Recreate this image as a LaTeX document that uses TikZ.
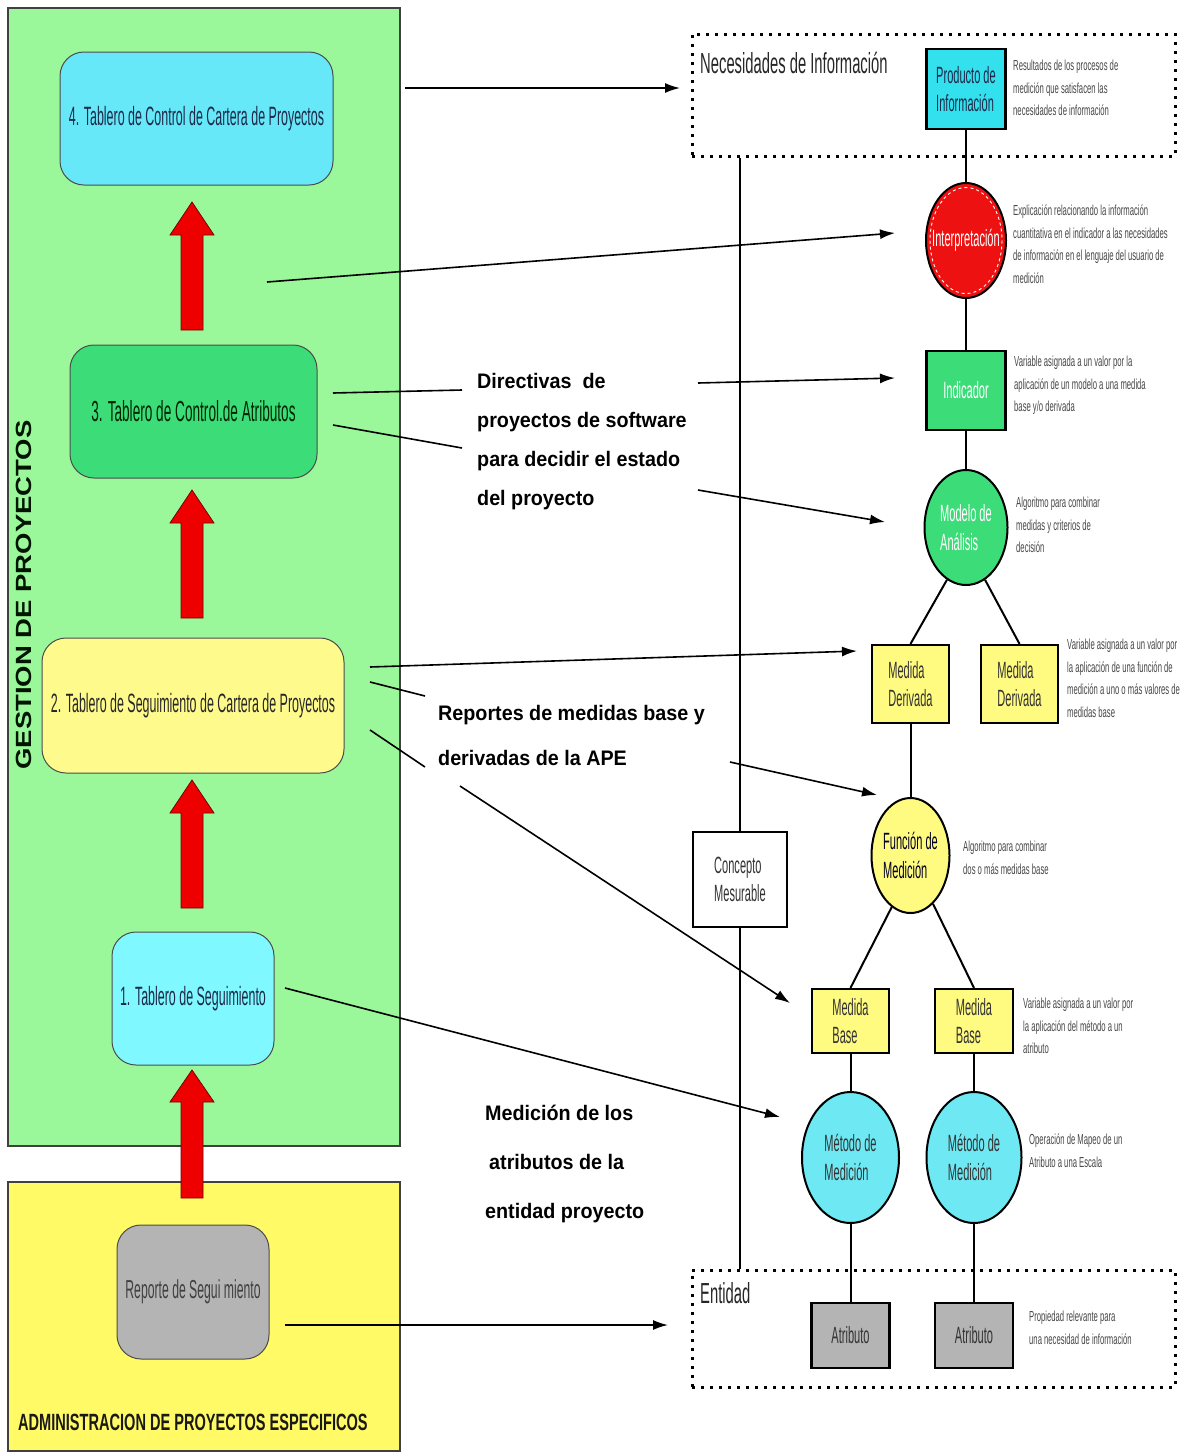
\documentclass[tikz,border=0pt]{standalone}
\usepackage{fontspec}
\setmainfont{Liberation Sans}
\newfontfamily\nar[FakeStretch=0.53]{Liberation Sans}
\newfontfamily\narr[FakeStretch=0.47]{Liberation Sans}
\newfontfamily\narn[FakeStretch=0.51]{Liberation Sans}
\newfontfamily\narb[FakeStretch=0.62]{Liberation Sans}
\newfontfamily\midb[FakeStretch=0.94]{Liberation Sans}
\newfontfamily\wideb[FakeStretch=1.25]{Liberation Sans}
\usetikzlibrary{shapes.geometric,arrows.meta}
\definecolor{panelgreen}{HTML}{9AF89A}
\definecolor{panelyellow}{HTML}{FFFA66}
\definecolor{cyanA}{HTML}{66E8F8}
\definecolor{cyanB}{HTML}{80F8FF}
\definecolor{greenA}{HTML}{3CDC78}
\definecolor{yellowA}{HTML}{FFFA8C}
\definecolor{greyA}{HTML}{B4B4B4}
\definecolor{cyanC}{HTML}{33E0EE}
\definecolor{redA}{HTML}{EE1111}
\definecolor{yellowB}{HTML}{FFFA80}
\definecolor{cyanD}{HTML}{6EE8F2}
\definecolor{txtdark}{HTML}{333333}
\definecolor{navy}{HTML}{1C2A4A}
\definecolor{arrred}{HTML}{EE0000}
\newcommand\redup[3]{\filldraw[redarrow] (181,#3) -- (181,#2) -- (170,#2) -- (192,#1) -- (214,#2) -- (203,#2) -- (203,#3) -- cycle;}
\begin{document}
\begin{tikzpicture}[x=1pt,y=-1pt,
  panel/.style={draw=black!75,line width=1.2pt},
  leftnode/.style={rectangle,rounded corners=24pt,draw=black!70,line width=1pt,align=center,inner sep=0pt,font=\narr\fontsize{26.5}{30}\selectfont,text=navy},
  rbox/.style={rectangle,draw=black,line width=2.2pt,align=left,inner sep=0pt,font=\narr\fontsize{23.5}{28.5}\selectfont,text=txtdark},
  rell/.style={ellipse,draw=black,line width=2pt,inner sep=0pt},
  lbl/.style={font=\narr\fontsize{23.5}{28.5}\selectfont,align=left,text=txtdark,inner sep=0pt},
  desc/.style={anchor=north west,align=left,inner sep=0pt,font=\nar\fontsize{14.5}{22.5}\selectfont,text=black!72},
  dotbox/.style={rectangle,draw=black,line width=3pt,dash pattern=on 3pt off 6pt,inner sep=0pt},
  arr/.style={line width=1.6pt,-{Latex[length=15pt,width=10pt]}},
  ln/.style={line width=1.6pt},
  conn/.style={line width=2pt},
  bigtxt/.style={anchor=north west,align=left,inner sep=0pt},
  redarrow/.style={fill=arrred,draw=red!45!black,line width=0.8pt}
]
\useasboundingbox (0,0) rectangle (1184,1452);
\fill[white] (0,0) rectangle (1184,1452);
% panels
\draw[panel,fill=panelgreen] (8,8) rectangle (400,1146);
\draw[panel,fill=panelyellow] (8,1182) rectangle (400,1451);
\node[rotate=90,inner sep=0pt,font=\wideb\bfseries\fontsize{22}{26}\selectfont,text=black!80!green!40!black] (gest) at (24,595) {GESTION DE PROYECTOS};
\node[anchor=base west,inner sep=0pt,font=\narb\bfseries\fontsize{23.5}{28}\selectfont,text=black!90] (adm) at (18,1430) {ADMINISTRACION DE PROYECTOS ESPECIFICOS};
% left nodes
\node[leftnode,fill=cyanA,minimum width=273,minimum height=133] (n4) at (196.5,118.5) {4. Tablero de Control de Cartera de Proyectos};
\node[leftnode,fill=greenA,minimum width=247,minimum height=133,font=\narr\fontsize{29}{32}\selectfont,text=black!70!green!50!black] (n3) at (193.5,411.5) {3. Tablero de Control.de Atributos};
\node[leftnode,fill=yellowA,minimum width=302,minimum height=135,text=black!85] (n2) at (193,705.5) {2. Tablero de Seguimiento de Cartera de Proyectos};
\node[leftnode,fill=cyanB,minimum width=162,minimum height=133] (n1) at (193,998.5) {1. Tablero de Seguimiento};
\node[leftnode,fill=greyA,minimum width=152,minimum height=134,text=black!75,font=\narr\fontsize{26}{30}\selectfont] (rep) at (193,1292) {Reporte de Segui miento};
% red block arrows
\redup{1070}{1102}{1198}
\redup{780}{813}{908}
\redup{490}{523}{618}
\redup{202}{235}{330}
% dotted boxes
\node[dotbox,minimum width=483,minimum height=122] (nec) at (933.5,95) {};
\node[dotbox,minimum width=483,minimum height=117] (ent) at (933.5,1328.5) {};
\node[anchor=base west,inner sep=0pt,font=\narn\fontsize{29}{32}\selectfont,text=black!85] (necl) at (700,73) {Necesidades de Información};
\node[anchor=base west,inner sep=0pt,font=\narn\fontsize{29}{32}\selectfont,text=black!85] (entl) at (700,1303) {Entidad};
% right nodes
\node[rbox,fill=cyanC,minimum width=79,minimum height=80,text=navy] (prod) at (966,89) {Producto de\\Información};
\node[rell,fill=redA,minimum width=80,minimum height=115,label={[lbl,text=white]center:Interpretación}] (interp) at (966,240.5) {};
\draw[white,dashed,line width=0.9pt] (interp.center) ellipse [x radius=36,y radius=53];
\node[rbox,fill=greenA,minimum width=79,minimum height=79,text=white] (ind) at (966,390.5) {Indicador};
\node[rell,fill=greenA,minimum width=83,minimum height=115,label={[lbl,text=white]center:Modelo de\\Análisis}] (mod) at (966,527.5) {};
\node[rbox,fill=yellowB,minimum width=77,minimum height=78] (md1) at (910.5,684) {Medida\\Derivada};
\node[rbox,fill=yellowB,minimum width=77,minimum height=78] (md2) at (1019.5,684) {Medida\\Derivada};
\node[rell,fill=yellowB,minimum width=78,minimum height=115,label={[lbl,text=black!70!blue!40!black]center:Función de\\Medición}] (fun) at (910.5,855.5) {};
\node[rbox,fill=yellowB,minimum width=77,minimum height=64] (mb1) at (850.5,1021) {Medida\\Base};
\node[rbox,fill=yellowB,minimum width=78,minimum height=64] (mb2) at (974,1021) {Medida\\Base};
\node[rell,fill=cyanD,minimum width=97,minimum height=131,label={[lbl]center:Método de\\Medición}] (met1) at (850.5,1157.5) {};
\node[rell,fill=cyanD,minimum width=95,minimum height=131,label={[lbl]center:Método de\\Medición}] (met2) at (974,1157.5) {};
\node[rbox,fill=greyA,minimum width=78,minimum height=65] (at1) at (850.5,1335.5) {Atributo};
\node[rbox,fill=greyA,minimum width=78,minimum height=65] (at2) at (974,1335.5) {Atributo};
\node[rbox,fill=white,line width=1.8pt,minimum width=94,minimum height=95] (conc) at (740,879.5) {Concepto\\Mesurable};
% right connectors
\draw[conn] (prod.south) -- (interp.north);
\draw[conn] (interp.south) -- (ind.north);
\draw[conn] (ind.south) -- (mod.north);
\draw[conn] (mod.250) -- (md1.north);
\draw[conn] (mod.290) -- (md2.north);
\draw[conn] (md1.south) -- (fun.north);
\draw[conn] (fun.250) -- (mb1.north);
\draw[conn] (fun.295) -- (mb2.north);
\draw[conn] (mb1.south) -- (met1.north);
\draw[conn] (mb2.south) -- (met2.north);
\draw[conn] (met1.south) -- (at1.north);
\draw[conn] (met2.south) -- (at2.north);
\draw[conn] (conc.north) -- (conc.north |- nec.south);
\draw[conn] (conc.south) -- (conc.south |- ent.north);
% descriptions
\node[desc] (d1) at (1013,60) {Resultados de los procesos de\\medición que satisfacen las\\necesidades de información};
\node[desc] (d2) at (1013,205) {Explicación relacionando la información\\cuantitativa en el indicador a las necesidades\\de información en el lenguaje del usuario de\\medición};
\node[desc] (d3) at (1014,356) {Variable asignada a un valor por la\\aplicación de un modelo a una medida\\base y/o derivada};
\node[desc] (d4) at (1016,497) {Algoritmo para combinar\\medidas y criterios de\\decisión};
\node[desc] (d5) at (1067,639) {Variable asignada a un valor por\\la aplicación de una función de\\medición a uno o más valores de\\medidas base};
\node[desc] (d6) at (963,841) {Algoritmo para combinar\\dos o más medidas base};
\node[desc] (d7) at (1023,998) {Variable asignada a un valor por\\la aplicación del método a un\\atributo};
\node[desc] (d8) at (1029,1134) {Operación de Mapeo de un\\Atributo a una Escala};
\node[desc] (d9) at (1029,1311) {Propiedad relevante para\\una necesidad de información};
% middle texts
\node[bigtxt,font=\midb\bfseries\fontsize{21}{39}\selectfont] (tdir) at (477,373) {Directivas~ de\\proyectos de software\\para decidir el estado\\del proyecto};
\node[bigtxt,font=\midb\bfseries\fontsize{21}{45}\selectfont] (trep) at (438,705) {Reportes de medidas base y\\derivadas de la APE};
\node[bigtxt,font=\midb\bfseries\fontsize{21}{49}\selectfont] (tmed) at (485,1105) {Medición de los\\\hspace{4pt}atributos de la\\entidad proyecto};
% connector end points
\coordinate (s1) at (405,88);   \coordinate (e1) at (680,88);
\coordinate (s2) at (267,282);  \coordinate (e2) at (895,233);
\coordinate (s3) at (333,393);  \coordinate (e3) at (462,390);
\coordinate (s4) at (333,425);  \coordinate (e4) at (462,448);
\coordinate (s5) at (698,383);  \coordinate (e5) at (895,378);
\coordinate (s6) at (698,490);  \coordinate (e6) at (885,522);
\coordinate (s7) at (370,667);  \coordinate (e7) at (857,651);
\coordinate (s8) at (370,682);  \coordinate (e8) at (425,696);
\coordinate (s9) at (370,730);  \coordinate (e9) at (425,767);
\coordinate (s10) at (730,762); \coordinate (e10) at (877,795);
\coordinate (s11) at (460,786); \coordinate (e11) at (790,1003);
\coordinate (s12) at (285,988); \coordinate (e12) at (780,1117);
\coordinate (s13) at (285,1325);\coordinate (e13) at (668,1325);
\draw[arr] (s1) -- (e1);
\draw[arr] (s2) -- (e2);
\draw[ln] (s3) -- (e3);
\draw[ln] (s4) -- (e4);
\draw[arr] (s5) -- (e5);
\draw[arr] (s6) -- (e6);
\draw[arr] (s7) -- (e7);
\draw[ln] (s8) -- (e8);
\draw[ln] (s9) -- (e9);
\draw[arr] (s10) -- (e10);
\draw[arr] (s11) -- (e11);
\draw[arr] (s12) -- (e12);
\draw[arr] (s13) -- (e13);
\end{tikzpicture}
\end{document}
